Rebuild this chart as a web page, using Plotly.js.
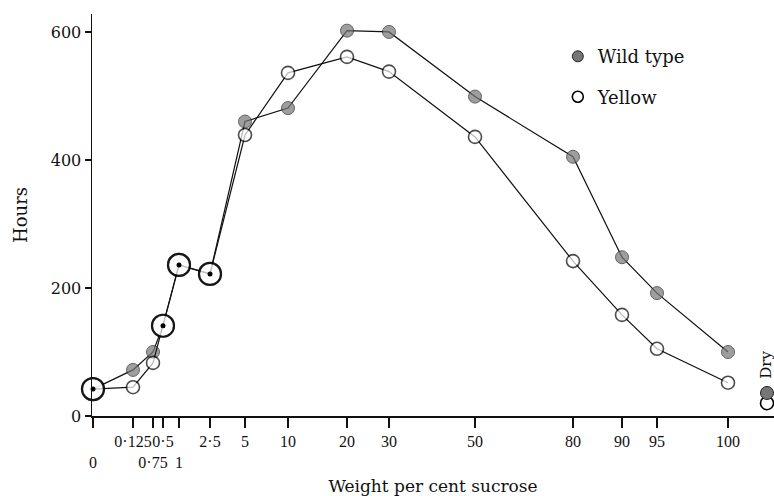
<!DOCTYPE html>
<html><head><meta charset="utf-8">
<script src="https://cdn.plot.ly/plotly-3.0.1.min.js"></script>
<style>html,body{margin:0;padding:0;background:#fff}</style>
</head><body><div id="chart" style="width:774px;height:496px"></div>
<script>
// ---- data ----
const sucrose   = [0, 0.125, 0.75, 0.5, 1, 2.5, 5, 10, 20, 30, 50, 80, 90, 95, 100];
const wildType  = [42, 72, 100, 141, 236, 222, 460, 481, 602, 600, 499, 405, 248, 192, 100];
const yellow    = [42, 45, 83, 141, 236, 222, 439, 536, 561, 538, 436, 242, 158, 105, 52];
const dryWild   = [36];
const dryYellow = [20];
// ---- axis definition (non-linear sucrose scale as printed) ----
const tickValues = [0, 0.125, 0.75, 0.5, 1, 2.5, 5, 10, 20, 30, 50, 80, 90, 95, 100];
const tickLabels = ['<br>0', '0·125', '<br>0·75', '0·5', '<br>1', '2·5', '5', '10', '20', '30', '50', '80', '90', '95', '100'];
const axisScale  = [1, 41, 61, 71, 87, 118, 153, 196, 255, 297, 383, 481, 530, 565, 636];
const dryScale   = 675;
const yTicks = [0, 200, 400, 600];

function pos(v) { return axisScale[tickValues.indexOf(v)]; }
const xs = sucrose.map(pos);
const shared = wildType.map((w, i) => w === yellow[i]);
const sharedX = xs.filter((_, i) => shared[i]);
const sharedY = wildType.filter((_, i) => shared[i]);

const FONT = 'DejaVu Serif, Liberation Serif, serif';
const TICKFONT = 'Liberation Serif, DejaVu Serif, serif';
const wildFill = '#767676', wildEdge = '#222';

function markerStyle(base) {
  return {
    symbol: 'circle',
    size: shared.map(s => s ? 22 : 13),
    color: shared.map(s => s ? '#fff' : base.fill),
    line: { color: shared.map(s => s ? '#000' : base.edge), width: shared.map(s => s ? 2.2 : base.w) }
  };
}

const traces = [
  { x: xs, y: wildType, mode: 'lines+markers', showlegend: false, cliponaxis: false,
    line: { color: '#111', width: 1.2 }, marker: markerStyle({ fill: wildFill, edge: wildEdge, w: 1 }) },
  { x: xs, y: yellow, mode: 'lines+markers', showlegend: false, cliponaxis: false,
    line: { color: '#111', width: 1.2 }, marker: markerStyle({ fill: '#fff', edge: '#000', w: 1.6 }) },
  { x: sharedX, y: sharedY, mode: 'markers', showlegend: false, cliponaxis: false,
    marker: { symbol: 'circle', size: 5, color: '#000', line: { width: 0 } } },
  { x: [dryScale], y: dryYellow, mode: 'markers', showlegend: false, cliponaxis: false,
    marker: { symbol: 'circle', size: 13, color: '#fff', line: { color: '#000', width: 1.6 } } },
  { x: [dryScale], y: dryWild, mode: 'markers', showlegend: false, cliponaxis: false,
    marker: { symbol: 'circle', size: 13, color: wildFill, line: { color: wildEdge, width: 1 } } },
  { x: [null], y: [null], mode: 'markers', name: 'Wild type', legendgroup: 'a',
    marker: { symbol: 'circle', size: 11, color: wildFill, line: { color: wildEdge, width: 1 } } },
  { x: [null], y: [null], mode: 'markers', name: 'Yellow', legendgroup: 'b',
    marker: { symbol: 'circle', size: 11, color: '#fff', line: { color: '#000', width: 1.6 } } }
];

const layout = {
  width: 774, height: 496,
  margin: { l: 92, r: 0, t: 14, b: 80 },
  paper_bgcolor: '#fff', plot_bgcolor: '#fff',
  font: { family: FONT, color: '#111', size: 14 },
  xaxis: {
    range: [0, 682], tickmode: 'array', tickvals: axisScale, ticktext: tickLabels,
    ticks: 'outside', ticklen: 10, tickwidth: 1.5, tickcolor: '#111',
    showline: true, linecolor: '#111', linewidth: 1.5, showgrid: false, zeroline: false,
    tickangle: 0, tickfont: { family: TICKFONT, size: 16 },
    title: { text: 'Weight per cent sucrose', font: { family: FONT, size: 17 }, standoff: 10 }
  },
  yaxis: {
    range: [0, 628], tickmode: 'array', tickvals: yTicks,
    ticks: 'outside', ticklen: 6, tickwidth: 1.5, tickcolor: '#111',
    showline: true, linecolor: '#111', linewidth: 1.5, showgrid: false, zeroline: false,
    tickfont: { family: FONT, size: 16 },
    title: { text: 'Hours', font: { family: FONT, size: 18 }, standoff: 18 }
  },
  legend: { x: 0.683, y: 0.94, xanchor: 'left', yanchor: 'top', bgcolor: 'rgba(0,0,0,0)',
    font: { family: FONT, size: 18 }, traceorder: 'grouped', tracegroupgap: 14, itemwidth: 30 },
  annotations: [
    { x: dryScale, y: 80, xref: 'x', yref: 'y', text: 'Dry', showarrow: false, textangle: -90,
      xshift: -1, font: { family: FONT, size: 15 } }
  ]
};

Plotly.newPlot('chart', traces, layout, { displayModeBar: false, staticPlot: true });
</script></body></html>
